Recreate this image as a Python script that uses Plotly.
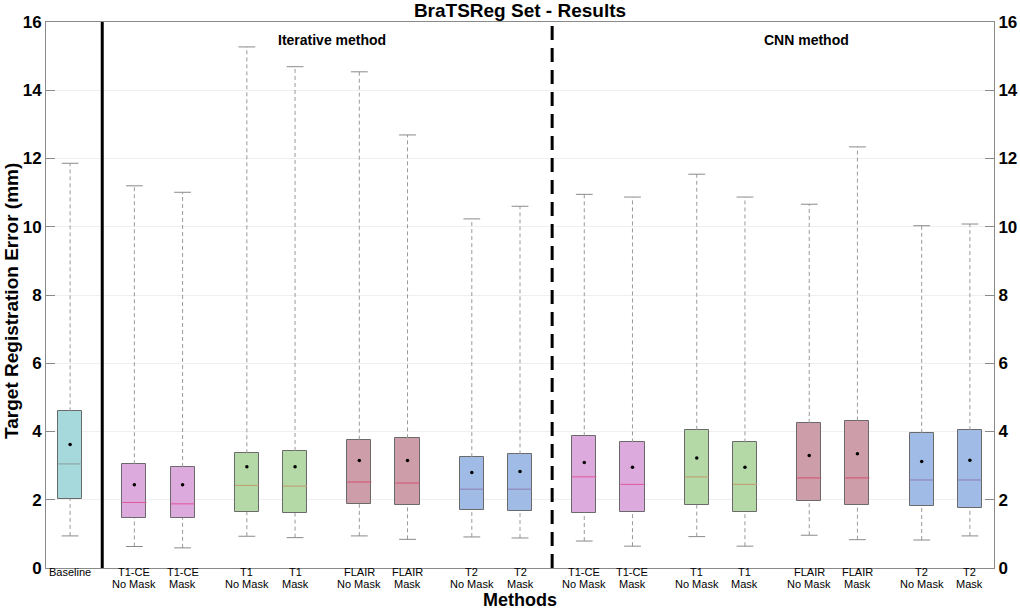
import plotly.graph_objects as go

# box statistics (mm)
labels = ['Baseline',
          'T1-CE<br>No Mask', 'T1-CE<br>Mask', 'T1<br>No Mask', 'T1<br>Mask',
          'FLAIR<br>No Mask', 'FLAIR<br>Mask', 'T2<br>No Mask', 'T2<br>Mask',
          'T1-CE<br>No Mask', 'T1-CE<br>Mask', 'T1<br>No Mask', 'T1<br>Mask',
          'FLAIR<br>No Mask', 'FLAIR<br>Mask', 'T2<br>No Mask', 'T2<br>Mask']
lower = [0.94, 0.63, 0.59, 0.93, 0.89, 0.94, 0.84, 0.91, 0.88,
         0.79, 0.64, 0.92, 0.64, 0.96, 0.83, 0.82, 0.94]
q1 = [2.03, 1.47, 1.47, 1.64, 1.61, 1.87, 1.85, 1.69, 1.67,
      1.62, 1.64, 1.85, 1.63, 1.95, 1.86, 1.83, 1.76]
median = [3.05, 1.92, 1.88, 2.42, 2.40, 2.52, 2.49, 2.31, 2.31,
          2.67, 2.45, 2.67, 2.45, 2.64, 2.64, 2.58, 2.58]
q3 = [4.59, 3.04, 2.96, 3.36, 3.43, 3.76, 3.80, 3.25, 3.33,
      3.86, 3.68, 4.05, 3.68, 4.25, 4.32, 3.96, 4.04]
upper = [11.86, 11.20, 11.01, 15.27, 14.69, 14.54, 12.69, 10.23, 10.60,
         10.95, 10.87, 11.54, 10.87, 10.66, 12.34, 10.03, 10.08]
mean = [3.62, 2.44, 2.44, 2.97, 2.97, 3.15, 3.15, 2.80, 2.83,
        3.09, 2.95, 3.22, 2.95, 3.30, 3.35, 3.12, 3.16]
group = ['base', 't1ce', 't1ce', 't1', 't1', 'flair', 'flair', 't2', 't2',
         't1ce', 't1ce', 't1', 't1', 'flair', 'flair', 't2', 't2']

FILL = {'base': '#a6d9dc', 't1ce': '#dcaadc', 't1': '#b4d9a6',
        'flair': '#cd9daa', 't2': '#a0bce6'}
MED = {'base': '#8c9e9e', 't1ce': '#e2559a', 't1': '#c39a6e',
       'flair': '#d2506e', 't2': '#8e7cb4'}

# x positions: baseline, then pairs (gap 4, within pair 3)
pos = [0]
for i in range(1, len(labels)):
    pos.append(pos[-1] + (4 if i % 2 == 1 else 3))
W = 1.5
GRAY = '#8a8a8a'
FONT = 'Liberation Sans, Arial, Helvetica, sans-serif'

fig = go.Figure()

# whiskers (dashed)
for i, x in enumerate(pos):
    for a, b in ((q3[i], upper[i]), (lower[i], q1[i])):
        fig.add_trace(go.Scatter(x=[x, x], y=[a, b], mode='lines',
                                 line={'color': '#9a9a9a', 'width': 1, 'dash': '4px,3px'},
                                 hoverinfo='skip', showlegend=False))
# caps
fig.add_trace(go.Scatter(x=pos + pos, y=upper + lower, mode='markers',
                         marker={'symbol': 'line-ew', 'size': 12,
                                 'line': {'color': GRAY, 'width': 1}},
                         hoverinfo='skip', showlegend=False))
# boxes
fig.add_trace(go.Bar(x=pos, y=[b - a for a, b in zip(q1, q3)], base=q1, width=W,
                     marker={'color': [FILL[g] for g in group],
                             'line': {'color': '#6a6a6a', 'width': 1}},
                     hoverinfo='skip', showlegend=False))
# medians
for i, x in enumerate(pos):
    fig.add_trace(go.Scatter(x=[x - W / 2, x + W / 2], y=[median[i], median[i]],
                             mode='lines', line={'color': MED[group[i]], 'width': 1},
                             hoverinfo='skip', showlegend=False))
# means
fig.add_trace(go.Scatter(x=pos, y=mean, mode='markers',
                         marker={'color': 'black', 'size': 3.5},
                         hoverinfo='skip', showlegend=False))
# dummy trace for right axis
fig.add_trace(go.Scatter(x=[pos[0]], y=[0], yaxis='y2', mode='markers',
                         marker={'opacity': 0}, hoverinfo='skip', showlegend=False))

fig.add_shape(type='line', x0=2, x1=2, y0=0, y1=16, xref='x', yref='y',
              line={'color': 'black', 'width': 3})
fig.add_shape(type='line', x0=30, x1=30, y0=0, y1=16, xref='x', yref='y',
              line={'color': 'black', 'width': 3, 'dash': '14px,8px'})

# tick labels (tight two-line spacing like the reference)
for x, lab in zip(pos, labels):
    for k, line in enumerate(lab.split('<br>')):
        fig.add_annotation(text=line, x=x, y=0, xref='x', yref='y', yanchor='top',
                           yshift=3 - 12 * k, showarrow=False, borderpad=0,
                           font={'size': 11, 'color': 'black'})

fig.add_annotation(text='<b>Iterative method</b>', x=16.3, y=15.47, xref='x', yref='y',
                   showarrow=False, font={'size': 14, 'color': 'black'})
fig.add_annotation(text='<b>CNN method</b>', x=45.8, y=15.47, xref='x', yref='y',
                   showarrow=False, font={'size': 14, 'color': 'black'})
fig.add_annotation(text='<b>Methods</b>', x=0.5, y=-0.0585, xref='paper', yref='paper',
                   xanchor='center', yanchor='middle', showarrow=False, borderpad=0,
                   font={'size': 18, 'color': 'black'})
fig.add_annotation(text='<b>Target Registration Error (mm)</b>', x=-0.037, y=0.489,
                   xref='paper', yref='paper', xanchor='center', yanchor='middle',
                   textangle=-90, showarrow=False, borderpad=0,
                   font={'size': 19, 'color': 'black'})

yax = {'range': [0, 16], 'tickvals': list(range(0, 17, 2)), 'showgrid': True,
       'gridcolor': '#efefef', 'zeroline': False, 'showline': True,
       'linecolor': GRAY, 'linewidth': 1, 'ticks': 'inside', 'ticklen': 9,
       'tickcolor': GRAY, 'tickfont': {'size': 17, 'color': 'black', 'weight': 'bold'},
       'automargin': False, 'fixedrange': True}

fig.update_layout(
    width=1020, height=610,
    font={'family': FONT, 'color': 'black'},
    title={'text': '<b>BraTSReg Set - Results</b>', 'x': 0.5, 'xref': 'paper',
           'y': 1 - 10 / 610, 'yanchor': 'middle', 'font': {'size': 19}},
    margin={'l': 46, 'r': 26, 't': 22, 'b': 42},
    plot_bgcolor='white', paper_bgcolor='white',
    showlegend=False, bargap=0,
    xaxis={'range': [-1.5, 57.5], 'showticklabels': False,
           'showgrid': False, 'zeroline': False, 'showline': True, 'mirror': True,
           'linecolor': GRAY, 'linewidth': 1, 'ticks': '', 'automargin': False,
           'fixedrange': True},
    yaxis=yax,
    yaxis2=dict(yax, overlaying='y', side='right', showgrid=False),
)

fig.write_html('out.html', config={'displayModeBar': False},
               post_script="document.body.style.margin='0';")
